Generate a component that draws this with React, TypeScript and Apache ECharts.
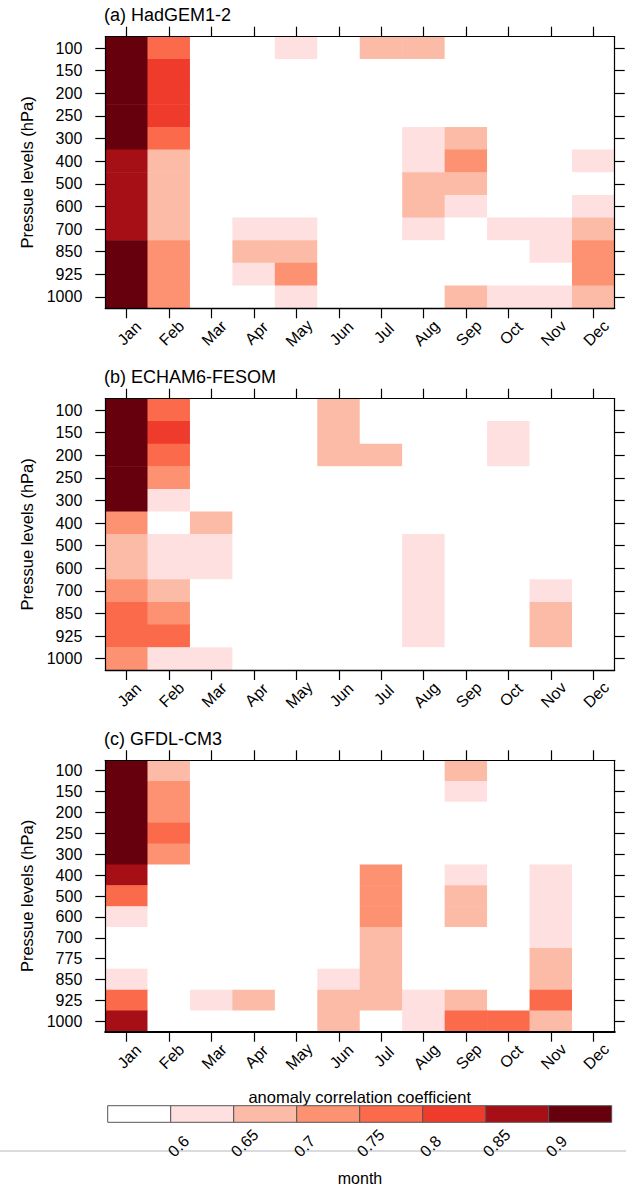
import React, { useEffect, useRef } from "react";
import * as echarts from "echarts";

const months = ["Jan", "Feb", "Mar", "Apr", "May", "Jun", "Jul", "Aug", "Sep", "Oct", "Nov", "Dec"];
const levelsAB = ["100", "150", "200", "250", "300", "400", "500", "600", "700", "850", "925", "1000"];
const levelsC = ["100", "150", "200", "250", "300", "400", "500", "600", "700", "775", "850", "925", "1000"];
const thresholds = [0.6, 0.65, 0.7, 0.75, 0.8, 0.85, 0.9];
const binColors = ["#ffffff", "#fee0e0", "#fcbba6", "#fc9272", "#fb6a4a", "#ef3b2c", "#a50f15", "#67000d"];
const titles = ["(a) HadGEM1-2", "(b) ECHAM6-FESOM", "(c) GFDL-CM3"];

const W = 0.5;
// rows = pressure levels (top to bottom), columns = Jan..Dec
const hadgem = [
  [0.92, 0.77, W, W, 0.62, W, 0.67, 0.67, W, W, W, W],
  [0.92, 0.82, W, W, W, W, W, W, W, W, W, W],
  [0.92, 0.82, W, W, W, W, W, W, W, W, W, W],
  [0.92, 0.82, W, W, W, W, W, W, W, W, W, W],
  [0.92, 0.77, W, W, W, W, W, 0.62, 0.67, W, W, W],
  [0.87, 0.67, W, W, W, W, W, 0.62, 0.72, W, W, 0.62],
  [0.87, 0.67, W, W, W, W, W, 0.67, 0.67, W, W, W],
  [0.87, 0.67, W, W, W, W, W, 0.67, 0.62, W, W, 0.62],
  [0.87, 0.67, W, 0.62, 0.62, W, W, 0.62, W, 0.62, 0.62, 0.67],
  [0.92, 0.72, W, 0.67, 0.67, W, W, W, W, W, 0.62, 0.72],
  [0.92, 0.72, W, 0.62, 0.72, W, W, W, W, W, W, 0.72],
  [0.92, 0.72, W, W, 0.62, W, W, W, 0.67, 0.62, 0.62, 0.67],
];
const echam = [
  [0.92, 0.77, W, W, W, 0.67, W, W, W, W, W, W],
  [0.92, 0.82, W, W, W, 0.67, W, W, W, 0.62, W, W],
  [0.92, 0.77, W, W, W, 0.67, 0.67, W, W, 0.62, W, W],
  [0.92, 0.72, W, W, W, W, W, W, W, W, W, W],
  [0.92, 0.62, W, W, W, W, W, W, W, W, W, W],
  [0.72, W, 0.67, W, W, W, W, W, W, W, W, W],
  [0.67, 0.62, 0.62, W, W, W, W, 0.62, W, W, W, W],
  [0.67, 0.62, 0.62, W, W, W, W, 0.62, W, W, W, W],
  [0.72, 0.67, W, W, W, W, W, 0.62, W, W, 0.62, W],
  [0.77, 0.72, W, W, W, W, W, 0.62, W, W, 0.67, W],
  [0.77, 0.77, W, W, W, W, W, 0.62, W, W, 0.67, W],
  [0.72, 0.62, 0.62, W, W, W, W, W, W, W, W, W],
];
const gfdl = [
  [0.92, 0.67, W, W, W, W, W, W, 0.67, W, W, W],
  [0.92, 0.72, W, W, W, W, W, W, 0.62, W, W, W],
  [0.92, 0.72, W, W, W, W, W, W, W, W, W, W],
  [0.92, 0.77, W, W, W, W, W, W, W, W, W, W],
  [0.92, 0.72, W, W, W, W, W, W, W, W, W, W],
  [0.87, W, W, W, W, W, 0.72, W, 0.62, W, 0.62, W],
  [0.77, W, W, W, W, W, 0.72, W, 0.67, W, 0.62, W],
  [0.62, W, W, W, W, W, 0.72, W, 0.67, W, 0.62, W],
  [W, W, W, W, W, W, 0.67, W, W, W, 0.62, W],
  [W, W, W, W, W, W, 0.67, W, W, W, 0.67, W],
  [0.62, W, W, W, W, 0.62, 0.67, W, W, W, 0.67, W],
  [0.77, W, 0.62, 0.67, W, 0.67, 0.67, 0.62, 0.67, W, 0.77, W],
  [0.87, W, W, W, W, 0.67, W, 0.62, 0.77, 0.77, 0.67, W],
];

const FONT = "Liberation Sans, Arial, Helvetica, sans-serif";

export default function App() {
  const ref = useRef<HTMLDivElement>(null);
  useEffect(() => {
    if (!ref.current) return;
    const chart = echarts.init(ref.current, null, { renderer: "svg" });
    const panels = [
      { data: hadgem, levels: levelsAB, top: 36.7, height: 271.6, bottomWidth: 1.3 },
      { data: echam, levels: levelsAB, top: 398.7, height: 271.3, bottomWidth: 1.3 },
      { data: gfdl, levels: levelsC, top: 760.3, height: 271.4, bottomWidth: 2.2 },
    ];
    const line = { color: "#000", width: 1.2 };
    const grid: any[] = [];
    const xAxis: any[] = [];
    const yAxis: any[] = [];
    const series: any[] = [];
    const graphic: any[] = [];
    panels.forEach((p, i) => {
      grid.push({ left: 105.3, top: p.top, width: 509.4, height: p.height });
      const tick = { show: true, alignWithLabel: true, length: 10, inside: false, lineStyle: line };
      xAxis.push({
        type: "category", gridIndex: i, data: months, position: "bottom", z: 10,
        axisLine: { show: true, lineStyle: { color: "#000", width: p.bottomWidth } },
        axisTick: tick, splitLine: { show: false },
        axisLabel: {
          interval: 0, rotate: 45, align: "center", verticalAlign: "middle",
          padding: [7.5, 0, 0, 7.5], margin: 27.5, fontSize: 16, color: "#000", fontFamily: FONT,
        },
      });
      xAxis.push({
        type: "category", gridIndex: i, data: months, position: "top", z: 10,
        axisLine: { show: true, lineStyle: line }, axisTick: tick, splitLine: { show: false },
        axisLabel: { show: false },
      });
      yAxis.push({
        type: "category", gridIndex: i, data: p.levels, inverse: true, position: "left", z: 10,
        axisLine: { show: true, lineStyle: line }, axisTick: tick, splitLine: { show: false },
        axisLabel: { interval: 0, fontSize: 16, color: "#000", margin: 23, fontFamily: FONT, hideOverlap: false },
        name: "Pressue levels (hPa)", nameLocation: "middle", nameGap: 67,
        nameTextStyle: { fontSize: 16.5, color: "#000", fontFamily: FONT },
      });
      yAxis.push({
        type: "category", gridIndex: i, data: p.levels, inverse: true, position: "right", z: 10,
        axisLine: { show: true, lineStyle: line }, axisTick: tick, splitLine: { show: false },
        axisLabel: { show: false },
      });
      const cells: any[] = [];
      p.data.forEach((row, r) => row.forEach((v, m) => cells.push([m, r, v])));
      series.push({
        type: "heatmap", xAxisIndex: i * 2, yAxisIndex: i * 2, data: cells,
        itemStyle: { borderWidth: 0 }, emphasis: { disabled: true },
      });
      graphic.push({
        type: "text", x: 104, y: p.top - 21.5,
        style: { text: titles[i], fontSize: 18, fontFamily: FONT, fill: "#000", align: "left", verticalAlign: "middle" },
      });
    });

    // colour bar
    grid.push({ left: 107.7, top: 1105.7, width: 504, height: 16.6 });
    xAxis.push({
      type: "value", gridIndex: 3, min: 0, max: 8, interval: 1,
      axisLine: { show: false }, axisTick: { show: false }, splitLine: { show: false },
      axisLabel: {
        formatter: (v: number) => (v >= 1 && v <= 7 ? String(thresholds[v - 1]) : ""),
        rotate: 45, align: "left", verticalAlign: "middle", margin: 31.7,
        fontSize: 16, color: "#000", fontFamily: FONT, showMinLabel: true, showMaxLabel: true,
      },
    });
    yAxis.push({ type: "value", gridIndex: 3, min: 0, max: 1, show: false });
    series.push({
      type: "custom", xAxisIndex: 6, yAxisIndex: 6,
      data: binColors.map((_, i) => [i, i + 1, i]),
      renderItem: (params: any, api: any) => {
        const p0 = api.coord([api.value(0), 1]);
        const p1 = api.coord([api.value(1), 0]);
        return {
          type: "rect",
          shape: { x: p0[0], y: p0[1], width: p1[0] - p0[0], height: p1[1] - p0[1] },
          style: { fill: binColors[api.value(2)], stroke: "#555", lineWidth: 1 },
        };
      },
    });

    graphic.push({
      type: "text", x: 359.7, y: 1097,
      style: { text: "anomaly correlation coefficient", fontSize: 16.5, fontFamily: FONT, fill: "#000", align: "center", verticalAlign: "middle" },
    });
    graphic.push({
      type: "line", z: -10, shape: { x1: 0, y1: 1151, x2: 626, y2: 1151 },
      style: { stroke: "#d9dbde", lineWidth: 2 },
    });
    graphic.push({
      type: "text", x: 360, y: 1178,
      style: { text: "month", fontSize: 16, fontFamily: FONT, fill: "#000", align: "center", verticalAlign: "middle" },
    });

    const pieces: any[] = binColors.map((c, i) => {
      const piece: any = { color: c };
      if (i > 0) piece.gte = thresholds[i - 1];
      if (i < thresholds.length) piece.lt = thresholds[i];
      return piece;
    });

    chart.setOption({
      animation: false,
      backgroundColor: "#fff",
      textStyle: { fontFamily: FONT },
      grid, xAxis, yAxis, series, graphic,
      visualMap: { type: "piecewise", show: false, seriesIndex: [0, 1, 2], pieces },
    });
    return () => chart.dispose();
  }, []);
  return <div ref={ref} style={{ position: "absolute", left: 0, top: 0, width: 626, height: 1187 }} />;
}
